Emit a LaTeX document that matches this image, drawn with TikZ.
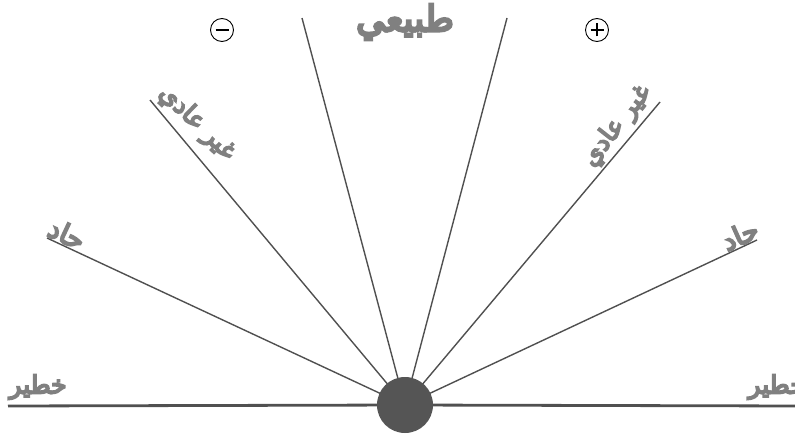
\documentclass[tikz,border=0pt]{standalone}
\usepackage{fontspec}
\newfontfamily\arabicfont[Script=Arabic,FakeBold=7]{DejaVu Sans}
\TeXXeTstate=1
\definecolor{raygray}{HTML}{505050}
\definecolor{lblgray}{HTML}{808080}
\definecolor{hubgray}{HTML}{555555}
\begin{document}
\begin{tikzpicture}[x=1pt,y=-1pt,
  ray/.style={draw=raygray,line width=1.4pt},
  baseray/.style={draw=raygray,line width=2.8pt},
  lbl/.style={text=lblgray,font=\arabicfont\fontsize{25}{25}\selectfont,inner sep=0pt},
  toplbl/.style={text=lblgray,font=\arabicfont\fontsize{36}{36}\selectfont,inner sep=0pt},
  sign/.style={circle,draw=black,line width=0.9pt,minimum size=23pt,inner sep=0pt}]
\useasboundingbox (0,0) rectangle (795,436);
\coordinate (c) at (405,405);
\coordinate (e1) at (8,406);
\coordinate (e2) at (47,238);
\coordinate (e3) at (150,100);
\coordinate (e4) at (302,18);
\coordinate (e5) at (507,18);
\coordinate (e6) at (660,102);
\coordinate (e7) at (757,240);
\coordinate (e8) at (800,406);
\draw[baseray] (c) -- (e1);
\draw[baseray] (c) -- (e8);
\foreach \e in {e2,e3,e4,e5,e6,e7} \draw[ray] (c) -- (\e);
\node[circle,fill=hubgray,minimum size=56pt,inner sep=0pt] (hub) at (c) {};
\node[toplbl] (tnat) at (405,22) {\beginR طبيعي\endR};
\node[lbl] (tl1) at (38,387) {\beginR خطير\endR};
\node[lbl] (tr1) at (777,387) {\beginR خطير\endR};
\node[lbl,rotate=-25,font=\arabicfont\fontsize{27}{27}\selectfont] (tl2) at (67,234) {\beginR حاد\endR};
\node[lbl,rotate=24,font=\arabicfont\fontsize{27}{27}\selectfont] (tr2) at (740,235) {\beginR حاد\endR};
\node[lbl,rotate=-44] (tl3) at (197,123) {\beginR غير عادي\endR};
\node[lbl,rotate=52] (tr3) at (617,126) {\beginR غير عادي\endR};
\node[sign] (minus) at (222,30) {};
\draw[line width=1.2pt] ([xshift=-6.5pt]minus.center) -- ([xshift=6.5pt]minus.center);
\node[sign] (plus) at (597,30) {};
\draw[line width=1.2pt] ([xshift=-6.5pt]plus.center) -- ([xshift=6.5pt]plus.center);
\draw[line width=1.2pt] ([yshift=-6.5pt]plus.center) -- ([yshift=6.5pt]plus.center);
\end{tikzpicture}
\end{document}
